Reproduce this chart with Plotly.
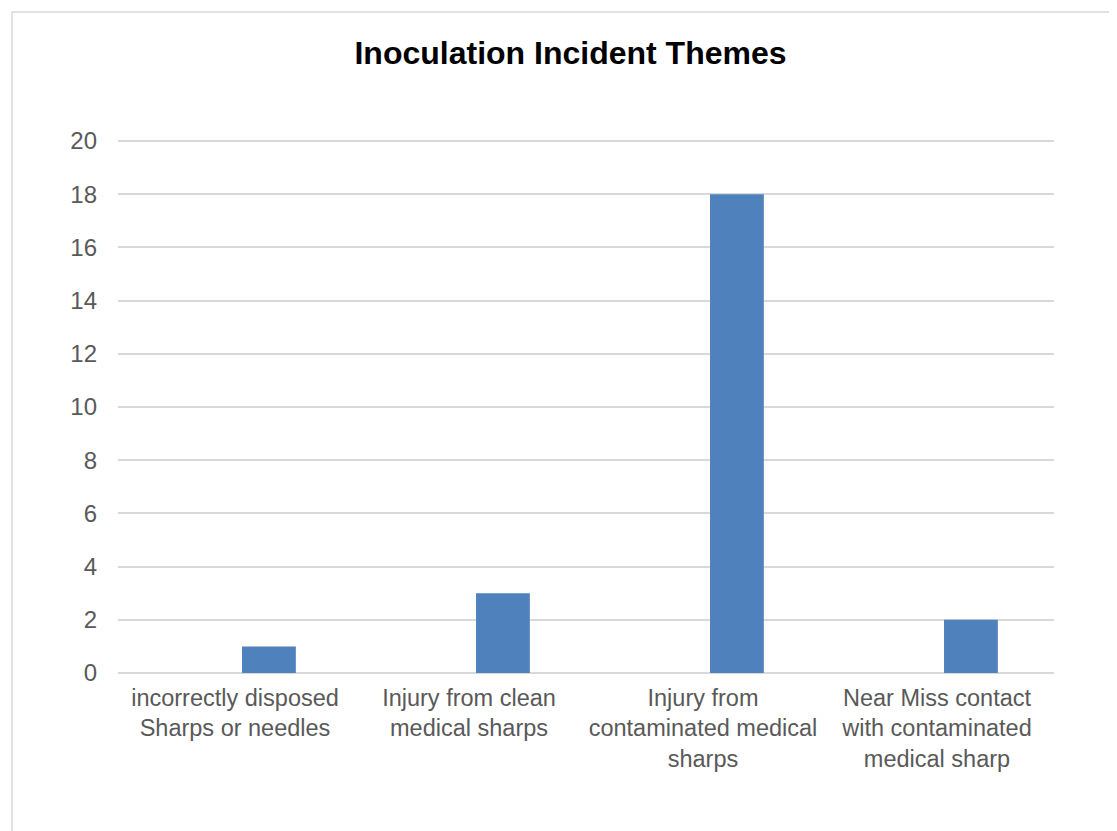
import plotly.graph_objects as go

CATEGORIES = [
    "incorrectly disposed<br>Sharps or needles",
    "Injury from clean<br>medical sharps",
    "Injury from<br>contaminated medical<br>sharps",
    "Near Miss contact<br>with contaminated<br>medical sharp",
]
COUNTS = [1, 3, 18, 2]
Y_TICKS = list(range(0, 21, 2))

TEXT_GREY = "#595959"
GRID_GREY = "#D9D9D9"
BAR_BLUE = "#4F81BD"

PAGE_PAD = 8  # default body margin of the html page
W, H = 1117 - PAGE_PAD, 831 - PAGE_PAD
TOP_PAD = 4  # a little room above the top gridline so plotly keeps it
L, R, T, B = 118 - PAGE_PAD, 1054 - PAGE_PAD, 141 - PAGE_PAD - TOP_PAD, 673 - PAGE_PAD
y_max = 20 + TOP_PAD * 20 / 532

fig = go.Figure(go.Bar(
    x=CATEGORIES, y=COUNTS,
    marker=dict(color=BAR_BLUE, line_width=0),
    width=0.23, offset=0.03,
    hoverinfo="x+y",
))

# light outer chart border, running off the right and bottom edges
pw, ph = R - L, B - T
bx, by = 12 - PAGE_PAD, 12 - PAGE_PAD
fig.add_shape(
    type="rect", xref="paper", yref="paper",
    x0=(bx - L) / pw, x1=(W + 10 - L) / pw,
    y0=(B - (H + 10)) / ph, y1=(B - by) / ph,
    line=dict(color="#D9D9D9", width=1.5), fillcolor="rgba(0,0,0,0)",
    layer="below",
)

fig.update_layout(
    width=W, height=H,
    margin=dict(l=L, r=W - R, t=T, b=H - B, pad=0),
    paper_bgcolor="white", plot_bgcolor="white",
    font=dict(family="Liberation Sans, Arial, sans-serif", size=24, color=TEXT_GREY),
    title=dict(
        text="<b>Inoculation Incident Themes</b>",
        x=(570.5 - PAGE_PAD) / W, xanchor="center",
        y=(H - (53 - PAGE_PAD)) / H, yanchor="middle",
        font=dict(size=32, color="black"),
    ),
    showlegend=False,
    xaxis=dict(
        showgrid=False, showline=False, zeroline=False,
        ticks="", ticklabelstandoff=8,
        tickfont=dict(size=23.5, color=TEXT_GREY),
    ),
    yaxis=dict(
        range=[0, y_max], tickvals=Y_TICKS,
        showgrid=True, gridcolor=GRID_GREY, gridwidth=1.5,
        zeroline=True, zerolinecolor=GRID_GREY, zerolinewidth=1.5,
        showline=False, ticks="", ticklabelstandoff=20,
        tickfont=dict(size=24, color=TEXT_GREY),
    ),
)

fig.write_html("out.html")
